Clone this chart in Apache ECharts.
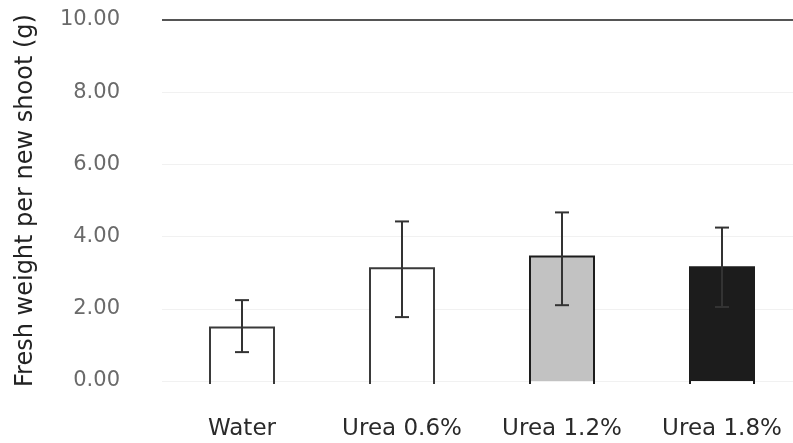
<!DOCTYPE html>
<html>
<head>
<meta charset="utf-8">
<script src="https://cdn.jsdelivr.net/npm/echarts@6/dist/echarts.min.js"></script>
<style>html,body{margin:0;padding:0;background:#fff}#c{width:793px;height:443px}</style>
</head>
<body>
<div id="c"></div>
<script>
var categories = ['Water', 'Urea 0.6%', 'Urea 1.2%', 'Urea 1.8%'];
var means = [1.48, 3.12, 3.45, 3.15];
var errLow = [0.80, 1.77, 2.10, 2.05];
var errHigh = [2.24, 4.42, 4.67, 4.25];
var yMin = 0, yMax = 10, yStep = 2;
var fills = ['#ffffff', '#ffffff', '#c2c2c2', '#1c1c1c'];
var strokes = ['#3a3a3a', '#3a3a3a', '#1c1c1c', '#1c1c1c'];

var chart = echarts.init(document.getElementById('c'));
chart.setOption({
  animation: false,
  backgroundColor: '#fff',
  grid: { left: 162, top: 20, width: 640, bottom: 62, containLabel: false, outerBoundsMode: 'none' },
  xAxis: {
    type: 'category',
    data: categories,
    axisLine: { show: false },
    axisTick: { show: false },
    axisLabel: { margin: 37, color: '#2a2a2a', fontSize: 23, fontFamily: 'DejaVu Sans' }
  },
  yAxis: {
    type: 'value',
    min: yMin, max: yMax, interval: yStep,
    name: 'Fresh weight per new shoot (g)',
    nameLocation: 'middle',
    nameGap: 124,
    nameTextStyle: { color: '#222', fontSize: 24, fontFamily: 'DejaVu Sans' },
    axisLine: { show: false },
    axisTick: { show: false },
    axisLabel: { margin: 42, color: '#6a6a6a', fontSize: 21, fontFamily: 'DejaVu Sans',
      formatter: function (v) { return v.toFixed(2); } },
    splitLine: { show: true, lineStyle: { color: '#f1f1f1', width: 1 } }
  },
  series: [
    {
      type: 'custom',
      data: means.map(function (m, i) { return [i, m]; }),
      renderItem: function (params, api) {
        var i = params.dataIndex;
        var top = api.coord([api.value(0), api.value(1)]);
        var base = api.coord([api.value(0), 0]);
        var w = api.size([1, 0])[0] * 0.4;
        var l = top[0] - w / 2, r = top[0] + w / 2;
        return {
          type: 'group',
          children: [
            { type: 'rect', shape: { x: l, y: top[1], width: w, height: base[1] - top[1] },
              style: { fill: fills[i] } },
            { type: 'polyline', shape: { points: [[l, base[1] + 3], [l, top[1]], [r, top[1]], [r, base[1] + 3]] },
              style: { stroke: strokes[i], lineWidth: 2, fill: null } }
          ]
        };
      },
      markLine: {
        silent: true, symbol: 'none', label: { show: false },
        lineStyle: { color: '#555', width: 2, type: 'solid' },
        data: [{ yAxis: yMax }]
      },
      z: 2
    },
    {
      type: 'custom',
      data: errLow.map(function (lo, i) { return [i, lo, errHigh[i]]; }),
      renderItem: function (params, api) {
        var lo = api.coord([api.value(0), api.value(1)]);
        var hi = api.coord([api.value(0), api.value(2)]);
        var x = lo[0], c = 7;
        var st = { stroke: '#333', lineWidth: 2 };
        return {
          type: 'group',
          children: [
            { type: 'line', shape: { x1: x, y1: lo[1], x2: x, y2: hi[1] }, style: st },
            { type: 'line', shape: { x1: x - c, y1: lo[1], x2: x + c, y2: lo[1] }, style: st },
            { type: 'line', shape: { x1: x - c, y1: hi[1], x2: x + c, y2: hi[1] }, style: st }
          ]
        };
      },
      z: 3
    }
  ]
});
</script>
</body>
</html>
